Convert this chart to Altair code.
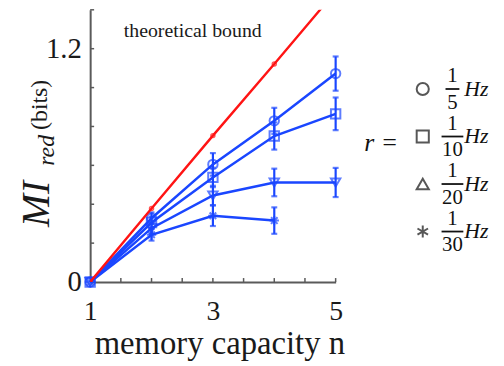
import altair as alt
import pandas as pd

# ---------------- data ----------------
n_vals = [1, 2, 3, 4, 5]
n_30 = [1, 2, 3, 4]
mi_5 = [0.0, 0.328, 0.605, 0.829, 1.072]
err_5 = [0.0, 0.03, 0.058, 0.067, 0.088]
mi_10 = [0.0, 0.306, 0.538, 0.751, 0.865]
err_10 = [0.0, 0.03, 0.05, 0.07, 0.084]
mi_20 = [0.0, 0.277, 0.445, 0.512, 0.512]
err_20 = [0.0, 0.03, 0.05, 0.071, 0.075]
mi_30 = [0.0, 0.243, 0.341, 0.316]
err_30 = [0.0, 0.03, 0.053, 0.068]
bound = [0.0, 0.378, 0.753, 1.121, 1.495]

series_names = ["1/5", "1/10", "1/20", "1/30"]
denoms = ["5", "10", "20", "30"]
x_tick_labels = [1, 3, 5]
y_tick_labels = [0, 1.2]
x_minor = [1.5, 2, 2.5, 3, 3.5, 4, 4.5, 5]
y_minor = [0.2, 0.4, 0.6, 0.8, 1.0, 1.2, 1.4]

STAR8 = "M0,-1L0,1M-1,0L1,0M-0.7,-0.7L0.7,0.7M-0.7,0.7L0.7,-0.7"
STAR6 = "M0,-1L0,1M-0.87,-0.5L0.87,0.5M-0.87,0.5L0.87,-0.5"
plot_shapes = ["circle", "square", "triangle-down", STAR8]
legend_shapes = ["circle", "square", "triangle-up", STAR6]

rows = []
for name, xs_, ms, es in [("1/5", n_vals, mi_5, err_5), ("1/10", n_vals, mi_10, err_10),
                          ("1/20", n_vals, mi_20, err_20), ("1/30", n_30, mi_30, err_30)]:
    for x, m, e in zip(xs_, ms, es):
        rows.append(dict(series=name, n=x, mi=m, lo=m - e, hi=m + e, err=e))
df = pd.DataFrame(rows)
df_bound = pd.DataFrame({"n": n_vals, "mi": bound})
df_xt = pd.DataFrame({"v": x_minor})
df_yt = pd.DataFrame({"v": y_minor})
df_leg = pd.DataFrame({"idx": [0, 1, 2, 3], "den": denoms, "num": ["1"] * 4,
                       "shape": legend_shapes, "hz": ["Hz"] * 4})

W, H = 248, 275
BLUE = "#1a46ff"
RED = "#ff1414"
AX = "#5a5a5a"
SERIF = "Liberation Serif"

xscale = alt.Scale(domain=[1, 5], nice=False, zero=False)
yscale = alt.Scale(domain=[0, 1.4], nice=False)
xaxis = alt.Axis(values=x_tick_labels, title=None, grid=False, ticks=False, domainColor=AX,
                 domainWidth=2, labelFont=SERIF, labelFontSize=28, labelColor="#1a1a1a",
                 labelPadding=16, labelFlush=False, format="d")
yaxis = alt.Axis(values=y_tick_labels, title=None, grid=False, ticks=False, domainColor=AX,
                 domainWidth=2, labelFont=SERIF, labelFontSize=29, labelColor="#1a1a1a",
                 labelPadding=9, labelFlush=False,
                 labelExpr="datum.value == 0 ? '0' : format(datum.value, '.1f')")


def X(f):
    return alt.X(f, type="quantitative", scale=xscale, axis=xaxis)


def Y(f):
    return alt.Y(f, type="quantitative", scale=yscale, axis=yaxis)


shape_enc = alt.Shape("series:N", scale=alt.Scale(domain=series_names, range=plot_shapes), legend=None)

yticks = alt.Chart(df_yt).mark_rule(color=AX, strokeWidth=1.5).encode(
    y=Y("v"), x=alt.value(0), x2=alt.value(4))
xticks = alt.Chart(df_xt).mark_rule(color=AX, strokeWidth=1.5).encode(
    x=X("v"), y=alt.value(H), y2=alt.value(H - 4))

lines = alt.Chart(df).mark_line(color=BLUE, strokeWidth=2.5).encode(
    x=X("n"), y=Y("mi"), detail="series:N")
ebars = alt.Chart(df).transform_filter("datum.err > 0").mark_rule(color=BLUE, strokeWidth=2.2).encode(
    x=X("n"), y=Y("lo"), y2="hi")
caps = alt.Chart(df).transform_filter("datum.err > 0").transform_fold(
    ["lo", "hi"], as_=["end", "yv"]).mark_tick(
    color=BLUE, orient="horizontal", size=6, thickness=2.2).encode(
    x=X("n"), y=Y("yv"))
pts = alt.Chart(df).mark_point(color=BLUE, filled=False, strokeWidth=2, size=90).encode(
    x=X("n"), y=Y("mi"), shape=shape_enc)

red_line = alt.Chart(df_bound).mark_line(color=RED, strokeWidth=2.4, clip=True).encode(
    x=X("n"), y=Y("mi"))
red_pts = alt.Chart(df_bound).mark_point(color=RED, filled=False, strokeWidth=1.5, size=16,
                                         shape="circle", clip=True).encode(x=X("n"), y=Y("mi"))

txt_bound = alt.Chart(df_bound).transform_filter("datum.n == 1").mark_text(
    text="theoretical bound", font=SERIF, fontSize=20, align="left", baseline="alphabetic",
    color="#1a1a1a").encode(x=alt.value(34), y=alt.value(27))

t_mi = alt.Chart(df_bound).transform_filter("datum.n == 1").mark_text(
    text="MI", font=SERIF, fontStyle="italic", fontSize=40, angle=270, align="center",
    baseline="alphabetic", color="#1a1a1a").encode(x=alt.value(-42), y=alt.value(196))
t_red = alt.Chart(df_bound).transform_filter("datum.n == 1").mark_text(
    text="red", font=SERIF, fontStyle="italic", fontSize=24, angle=270, align="center",
    baseline="alphabetic", color="#1a1a1a").encode(x=alt.value(-37), y=alt.value(142))
t_bits = alt.Chart(df_bound).transform_filter("datum.n == 1").mark_text(
    text="(bits)", font=SERIF, fontSize=24, angle=270, align="center",
    baseline="alphabetic", color="#1a1a1a").encode(x=alt.value(-44), y=alt.value(96))
t_x = alt.Chart(df_bound).transform_filter("datum.n == 1").mark_text(
    text="memory capacity n", font=SERIF, fontSize=33, align="center",
    baseline="alphabetic", color="#1a1a1a").encode(x=alt.value(131), y=alt.value(348))

main = alt.layer(yticks, xticks, lines, ebars, caps, pts, red_line, red_pts,
                 txt_bound, t_mi, t_red, t_bits, t_x)

# ---------------- legend ----------------
ly = alt.Y("idx:Q", scale=alt.Scale(domain=[0, 3], range=[80, 224]), axis=None)
leg_sym = alt.Chart(df_leg).mark_point(color="#111", filled=False, strokeWidth=2, size=150).encode(
    y=ly, x=alt.value(336), shape=alt.Shape("shape:N", scale=None, legend=None))
leg_num = alt.Chart(df_leg).mark_text(font=SERIF, fontSize=21, dy=-13, baseline="middle",
                                      align="center", color="#111").encode(
    y=ly, x=alt.value(366), text="num:N")
leg_den = alt.Chart(df_leg).mark_text(font=SERIF, fontSize=21, dy=14, baseline="middle",
                                      align="center", color="#111").encode(
    y=ly, x=alt.value(366), text="den:N")
leg_bar1 = alt.Chart(df_leg).transform_filter("length(datum.den) == 1").mark_rule(
    color="#111", strokeWidth=1.8).encode(y=ly, x=alt.value(359), x2=alt.value(373))
leg_bar2 = alt.Chart(df_leg).transform_filter("length(datum.den) == 2").mark_rule(
    color="#111", strokeWidth=1.8).encode(y=ly, x=alt.value(355), x2=alt.value(377))
leg_hz = alt.Chart(df_leg).mark_text(font=SERIF, fontStyle="italic", fontSize=22, baseline="middle",
                                     align="left", color="#111").encode(
    y=ly, x=alt.value(378), text="hz:N")
leg_r = alt.Chart(df_leg).transform_filter("datum.idx == 0").mark_text(
    text="r =", font=SERIF, fontStyle="italic", fontSize=26, baseline="middle", align="center",
    color="#111").encode(x=alt.value(294), y=alt.value(135))

legend = alt.layer(leg_sym, leg_num, leg_den, leg_bar1, leg_bar2, leg_hz, leg_r)

chart = alt.layer(main, legend).resolve_scale(y="independent", shape="independent").properties(
    width=W, height=H,
    autosize=alt.AutoSizeParams(type="none"),
    padding={"left": 83, "top": 0, "right": 162, "bottom": 82},
    background="white",
).configure_view(stroke=None)

chart.save("out.html", embed_options={"renderer": "svg", "actions": False})
